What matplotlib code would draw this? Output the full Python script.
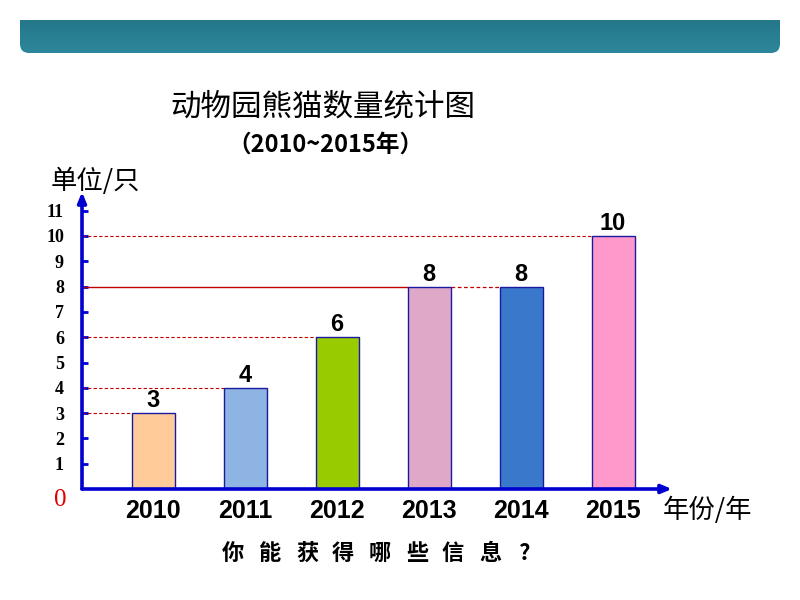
import matplotlib
matplotlib.use("Agg")
import matplotlib.pyplot as plt
import numpy as np
from matplotlib.patches import FancyBboxPatch
from matplotlib.colors import LinearSegmentedColormap

years = ["2010", "2011", "2012", "2013", "2014", "2015"]
counts = [3, 4, 6, 8, 8, 10]
colors = ["#FFCC99", "#8DB4E2", "#99CC00", "#E0A8C8", "#3A78CC", "#FF99CC"]
yticks = list(range(1, 12))
title = "动物园熊猫数量统计图"
subtitle = "（2010~2015年）"
ylabel = "单位/只"
xlabel = "年份/年"
question = "你能获得哪些信息?"

CJK = ["Noto Sans CJK SC", "DejaVu Sans"]

fig = plt.figure(figsize=(8, 6), dpi=100)

# header bar with gradient
hx, hy, hw, hh = 20/800, (600-53)/600, 760/800, 33/600
hax = fig.add_axes([hx, hy, hw, hh])
hax.set_axis_off()
grad = np.linspace(0, 1, 64).reshape(-1, 1)
cmap = LinearSegmentedColormap.from_list("hdr", ["#257789", "#2E879B"])
im = hax.imshow(grad, aspect="auto", cmap=cmap, extent=[0, 1, 0, 1], origin="upper")
clip = FancyBboxPatch((0, 0), 1, 1.6, boxstyle="round,pad=0,rounding_size=0.012",
                      transform=hax.transAxes, facecolor="none", edgecolor="none",
                      mutation_aspect=760/33)
hax.add_patch(clip)
im.set_clip_path(clip)
hax.set_xlim(0, 1); hax.set_ylim(0, 1)

# main axes
x0_px, y0_px, w_px, h_px = 82, 489, 590, 297
ax = fig.add_axes([x0_px/800, (600-y0_px)/600, w_px/800, h_px/600])
unit = 92.0
xl = (x0_px - 153) / unit
xr = (x0_px + w_px - 153) / unit
ax.set_xlim(xl, xr)
ax.set_ylim(0, h_px/25.3)
for s in ax.spines.values():
    s.set_visible(False)

x = np.arange(len(years))
bw = 43/unit
ax.bar(x, counts, width=bw, color=colors, edgecolor="#1A1AA0", linewidth=1.0, zorder=3)

red = "#C00000"
dash = (0, (3, 2))
ax.hlines(counts[0], xl, x[0]-bw/2, colors=red, linestyles=dash, lw=0.8, zorder=2)
ax.hlines(counts[1], xl, x[1]-bw/2, colors=red, linestyles=dash, lw=0.8, zorder=2)
ax.hlines(counts[2], xl, x[2]-bw/2, colors=red, linestyles=dash, lw=0.8, zorder=2)
ax.hlines(counts[3], xl, x[3]-bw/2, colors=red, linestyles="-", lw=1.0, zorder=2)
ax.hlines(counts[4], x[3]+bw/2, x[4]-bw/2, colors=red, linestyles=dash, lw=0.9, zorder=2)
ax.hlines(counts[5], xl, x[5]-bw/2, colors=red, linestyles=dash, lw=0.8, zorder=2)

blue = "#0000D0"
ax.annotate("", xy=(xl, h_px/25.3), xytext=(xl, 0),
            arrowprops=dict(arrowstyle="-|>,head_length=0.6,head_width=0.25", color=blue, lw=2.6,
                            shrinkA=0, shrinkB=0), annotation_clip=False, zorder=5)
ax.annotate("", xy=(xr, 0), xytext=(xl, 0),
            arrowprops=dict(arrowstyle="-|>,head_length=0.6,head_width=0.25", color=blue, lw=2.6,
                            shrinkA=0, shrinkB=0), annotation_clip=False, zorder=5)

ax.set_yticks(yticks)
ax.set_yticklabels([str(t) for t in yticks], fontfamily="Liberation Serif", fontsize=13,
                   fontweight="bold")
ax.tick_params(axis="y", direction="in", length=4, width=2, color=blue, pad=13)
ax.set_xticks(x)
ax.set_xticklabels(years, fontfamily="Liberation Sans", fontweight="bold", fontsize=18)
ax.tick_params(axis="x", length=0, pad=7)

ax.text(-22/unit + xl, 0, "0", color="#E00000", fontsize=18, fontfamily="Liberation Serif",
        ha="center", va="top")

for xi, c in zip(x, counts):
    ax.text(xi, c + 0.04, str(c), ha="center", va="bottom", fontsize=17,
            fontfamily="Liberation Sans", fontweight="bold", zorder=4)

fig.text(95/800, 1 - 181/600, ylabel, ha="center", va="center", fontsize=19, family=CJK)
fig.text(707/800, 1 - 510/600, xlabel, ha="center", va="center", fontsize=19, family=CJK)

fig.text(323/800, 1 - 107/600, title, ha="center", va="center", fontsize=22, family=CJK)
fig.text(325/800, 1 - 145/600, subtitle, ha="center", va="center", fontsize=17,
         family=CJK, fontweight="bold")

qx = [233, 270, 307, 343, 380, 417, 453, 490, 525]
for ch, px in zip(question, qx):
    fig.text(px/800, 1 - 553/600, ch, ha="center", va="center", fontsize=16,
             family=CJK, fontweight="bold")

fig.savefig("out.png", dpi=100)
